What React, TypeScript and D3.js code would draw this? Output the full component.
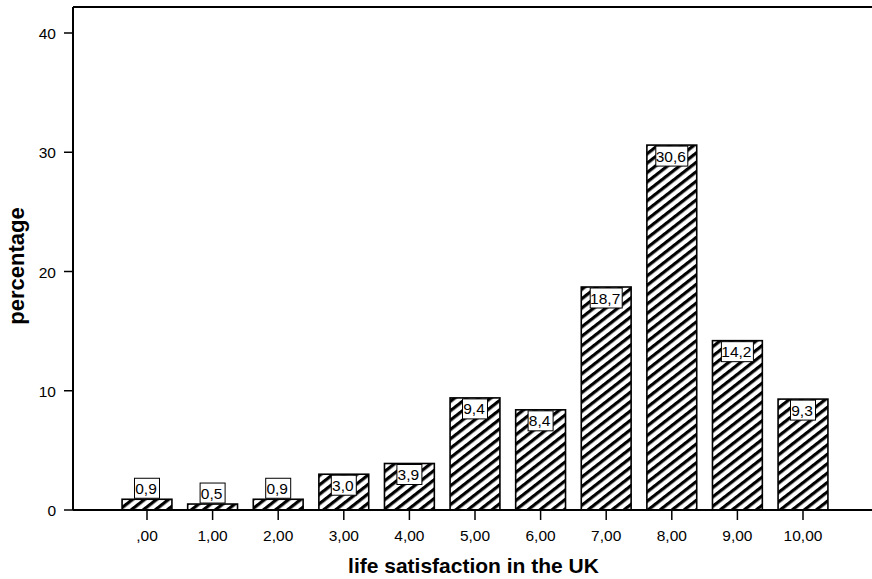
import React from "react";
import * as d3 from "d3";

const categories = [",00", "1,00", "2,00", "3,00", "4,00", "5,00", "6,00", "7,00", "8,00", "9,00", "10,00"];
const percentages = [0.9, 0.5, 0.9, 3.0, 3.9, 9.4, 8.4, 18.7, 30.6, 14.2, 9.3];
const valueLabels = ["0,9", "0,5", "0,9", "3,0", "3,9", "9,4", "8,4", "18,7", "30,6", "14,2", "9,3"];
const yTicks = [0, 10, 20, 30, 40];

const W = 872;
const H = 579;
const axisX = 73;
const frameTop = 7;

export default function App() {
  const y = d3.scaleLinear().domain([0, 40]).range([510, 33]);
  const x = d3
    .scaleBand<string>()
    .domain(categories)
    .range([114.2, 835.8])
    .paddingInner(0.24)
    .paddingOuter(0.12);
  const bw = x.bandwidth();
  const base = y(0);
  const font = "'Liberation Sans', Arial, sans-serif";

  const boxes = percentages.map((v, i) => {
    const cx = x(categories[i])! + bw / 2;
    const top = y(v);
    const label = valueLabels[i];
    const w = label.length > 3 ? 32 : 25;
    const h = 20;
    const bt = base - top >= h + 2 ? top + 1 : top - h - 1;
    return { cx, top, label, w, h, bt };
  });

  return (
    <svg
      width={W}
      height={H}
      style={{ position: "absolute", left: 0, top: 0, background: "#fff" }}
      fontFamily={font}
    >
      <defs>
        <pattern
          id="hatch"
          patternUnits="userSpaceOnUse"
          width={10}
          height={7.4}
          patternTransform="rotate(-38)"
        >
          <rect x={0} y={0} width={10} height={3.2} fill="#000" />
        </pattern>
        {boxes.map((b, i) => (
          <clipPath id={"clip" + i} key={i}>
            <rect x={b.cx - b.w / 2} y={b.bt} width={b.w} height={b.h} />
          </clipPath>
        ))}
      </defs>
      <rect x={0} y={0} width={W} height={H} fill="#fff" />

      {/* bars */}
      {percentages.map((v, i) => {
        const top = y(v);
        return (
          <g key={i}>
            <rect x={x(categories[i])!} y={top} width={bw} height={base - top} fill="#fff" />
            <rect
              x={x(categories[i])!}
              y={top}
              width={bw}
              height={base - top}
              fill="url(#hatch)"
              stroke="#000"
              strokeWidth={1.6}
            />
          </g>
        );
      })}

      {/* value labels */}
      {boxes.map((b, i) => (
        <g key={"l" + i}>
          <rect x={b.cx - b.w / 2} y={b.bt} width={b.w} height={b.h} fill="#fff" stroke="#000" strokeWidth={1} />
          <text
            x={b.cx - 1}
            y={b.bt + b.h / 2 + 5.5}
            textAnchor="middle"
            fontSize={15.5}
            fill="#000"
            clipPath={`url(#clip${i})`}
          >
            {b.label}
          </text>
        </g>
      ))}

      {/* frame / axes */}
      <line x1={axisX} x2={W} y1={frameTop} y2={frameTop} stroke="#000" strokeWidth={2} />
      <line x1={axisX} x2={axisX} y1={frameTop} y2={base} stroke="#000" strokeWidth={2} />
      <line x1={axisX} x2={W} y1={base} y2={base} stroke="#000" strokeWidth={2} />

      {/* y ticks */}
      {yTicks.map((t) => (
        <g key={t}>
          <line x1={64} x2={axisX} y1={y(t)} y2={y(t)} stroke="#000" strokeWidth={1.5} />
          <text x={56} y={y(t) + 6} textAnchor="end" fontSize={15.5} fill="#000">
            {t}
          </text>
        </g>
      ))}

      {/* x ticks */}
      {categories.map((c) => {
        const cx = x(c)! + bw / 2;
        return (
          <g key={c}>
            <line x1={cx} x2={cx} y1={base} y2={base + 10} stroke="#000" strokeWidth={1.5} />
            <text x={cx} y={541} textAnchor="middle" fontSize={15.5} fill="#000">
              {c}
            </text>
          </g>
        );
      })}

      {/* titles */}
      <text x={473.5} y={573} textAnchor="middle" fontSize={21} fontWeight="bold" fill="#000">
        life satisfaction in the UK
      </text>
      <text
        transform={`translate(24, 266) rotate(-90)`}
        textAnchor="middle"
        fontSize={22}
        fontWeight="bold"
        fill="#000"
      >
        percentage
      </text>
    </svg>
  );
}
